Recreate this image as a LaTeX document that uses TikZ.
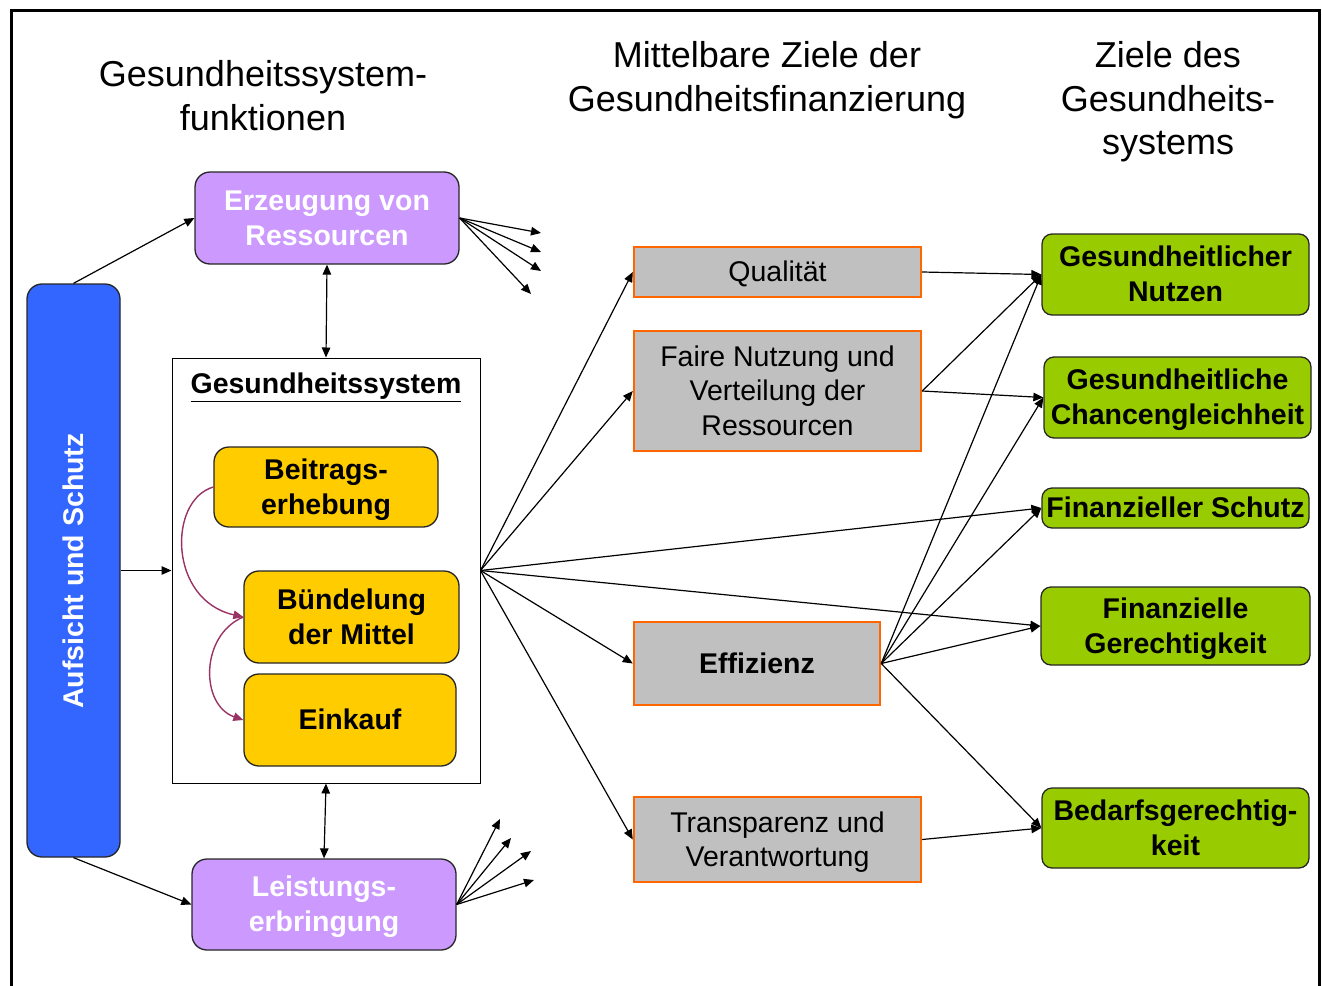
\documentclass[tikz,border=0pt]{standalone}
\usepackage{fontspec}
\setmainfont{Liberation Sans}
\usetikzlibrary{arrows.meta}
\definecolor{cblue}{HTML}{3366FF}
\definecolor{cpurple}{HTML}{CC99FF}
\definecolor{cyellow}{HTML}{FFCC00}
\definecolor{cgray}{HTML}{C0C0C0}
\definecolor{corange}{HTML}{FF6600}
\definecolor{cgreen}{HTML}{99CC00}
\definecolor{ccurve}{HTML}{993366}
\newcommand\ps{\rule[-0.212em]{0pt}{1.117em}}
\tikzset{
  boxfont/.style={font=\fontsize{28.5}{35}\selectfont},
  titlefont/.style={font=\fontsize{36}{43.5}\selectfont, align=center, inner sep=0},
  rbox/.style={draw=black!85, line width=1.3pt, rounded corners=15pt, inner sep=0, align=center, boxfont},
  purplebox/.style={rbox, fill=cpurple, text=white, font=\fontsize{28.5}{35}\selectfont\bfseries},
  yellowbox/.style={rbox, fill=cyellow, font=\fontsize{28.5}{35}\selectfont\bfseries},
  greenbox/.style={rbox, rounded corners=10pt, fill=cgreen, font=\fontsize{28.5}{35}\selectfont\bfseries},
  graybox/.style={draw=corange, line width=2.4pt, fill=cgray, inner sep=0, align=center, boxfont},
  arr/.style={-{Triangle[length=10pt,width=8.5pt]}, line width=1.2pt, black},
  darr/.style={{Triangle[length=10pt,width=8.5pt]}-{Triangle[length=10pt,width=8.5pt]}, line width=1.2pt, black},
  carr/.style={-{Triangle[length=10pt,width=8.5pt]}, line width=1.4pt, ccurve},
}
\begin{document}
\begin{tikzpicture}[x=1pt,y=-1pt]
\useasboundingbox (0,0) rectangle (1322,985);
% frame
\draw[line width=3pt] (11,986) -- (11,10) -- (1319,10) -- (1319,986);

% titles
\node[titlefont] (t1) at (263,96) {\ps Gesundheitssystem-\\\ps funktionen};
\node[titlefont] (t2) at (767,77) {\ps Mittelbare Ziele der\\\ps Gesundheitsfinanzierung};
\node[titlefont] (t3) at (1168,99) {\ps Ziele des\\\ps Gesundheits-\\\ps systems};

% left column
\node[rbox, fill=cblue, minimum width=93pt, minimum height=573pt] (blue) at (73.5,570.5) {};
\node[rotate=90, inner sep=0, text=white, font=\fontsize{28.5}{35}\selectfont\bfseries] (bluet) at (73.5,571) {\ps Aufsicht und Schutz};

\node[purplebox, minimum width=264pt, minimum height=92pt] (erz) at (327,218) {\ps Erzeugung von\\\ps Ressourcen};
\node[purplebox, minimum width=264pt, minimum height=91pt] (leist) at (324,904.5) {\ps Leistungs-\\\ps erbringung};

\node[draw=black, line width=1pt, fill=white, minimum width=308pt, minimum height=425pt, inner sep=0] (sys) at (326,570.5) {};
\node[font=\fontsize{28.5}{35}\selectfont\bfseries, inner sep=0] (syst) at (326,385) {\ps\underline{Gesundheitssystem}};

\node[yellowbox, minimum width=224pt, minimum height=80pt] (beit) at (326,487) {\ps Beitrags-\\\ps erhebung};
\node[yellowbox, minimum width=215pt, minimum height=92pt] (buend) at (351.5,617) {\ps Bündelung\\\ps der Mittel};
\node[yellowbox, minimum width=212pt, minimum height=92pt] (eink) at (350,720) {\ps Einkauf};

% middle column
\node[graybox, minimum width=287pt, minimum height=50pt] (qual) at (777.5,272) {\ps Qualität};
\node[graybox, minimum width=287pt, minimum height=120pt, font=\fontsize{28.5}{34.5}\selectfont] (faire) at (777.5,391) {\ps Faire Nutzung und\\\ps Verteilung der\\\ps Ressourcen};
\node[graybox, minimum width=246pt, minimum height=83pt, font=\fontsize{28.5}{35}\selectfont\bfseries] (eff) at (757,663.5) {\ps Effizienz};
\node[graybox, minimum width=287pt, minimum height=85pt, font=\fontsize{28.5}{34.5}\selectfont] (trans) at (777.5,839.5) {\ps Transparenz und\\\ps Verantwortung};

% right column
\node[greenbox, minimum width=267pt, minimum height=81pt] (gn) at (1175.5,274.5) {\ps Gesundheitlicher\\\ps Nutzen};
\node[greenbox, minimum width=267pt, minimum height=81pt] (gc) at (1177.5,397.5) {\ps Gesundheitliche\\\ps Chancengleichheit};
\node[greenbox, minimum width=267pt, minimum height=40pt] (fs) at (1175.5,508) {\ps Finanzieller Schutz};
\node[greenbox, minimum width=269pt, minimum height=78pt] (fg) at (1175.5,626) {\ps Finanzielle\\\ps Gerechtigkeit};
\node[greenbox, minimum width=267pt, minimum height=80pt] (bg) at (1175.5,828) {\ps Bedarfsgerechtig-\\\ps keit};

% free ends
\coordinate (e1) at (541,233);
\coordinate (e2) at (541,252);
\coordinate (e3) at (541,271);
\coordinate (e4) at (531,294);
\coordinate (l1) at (500,819);
\coordinate (l2) at (511,838);
\coordinate (l3) at (531,851);
\coordinate (l4) at (534,880);

% connectors left
\draw[arr] (blue.north) -- (erz.west);
\draw[arr] (blue.south) -- (leist.west);
\draw[arr] (blue.east) -- (sys.west);
\draw[darr] (erz.south) -- (sys.north);
\draw[darr] (sys.south) -- (leist.north);
\foreach \e in {e1,e2,e3,e4} \draw[arr] (erz.east) -- (\e);
\foreach \e in {l1,l2,l3,l4} \draw[arr] (leist.east) -- (\e);

\draw[carr] (beit.west) .. controls (168,500) and (168,600) .. (buend.west);
\draw[carr] (buend.west) .. controls (200,635) and (200,705) .. (eink.west);

% hub
\draw[arr] (sys.east) -- (qual.west);
\draw[arr] (sys.east) -- (faire.west);
\draw[arr] (sys.east) -- (fs.west);
\draw[arr] (sys.east) -- (fg.west);
\draw[arr] (sys.east) -- (eff.west);
\draw[arr] (sys.east) -- (trans.west);

% to goals
\draw[arr] (qual.east) -- (gn.west);
\draw[arr] (faire.east) -- (gn.west);
\draw[arr] (faire.east) -- (gc.west);
\draw[arr] (eff.east) -- (gn.west);
\draw[arr] (eff.east) -- (gc.west);
\draw[arr] (eff.east) -- (fs.west);
\draw[arr] (eff.east) -- (fg.west);
\draw[arr] (eff.east) -- (bg.west);
\draw[arr] (trans.east) -- (bg.west);
\end{tikzpicture}
\end{document}
